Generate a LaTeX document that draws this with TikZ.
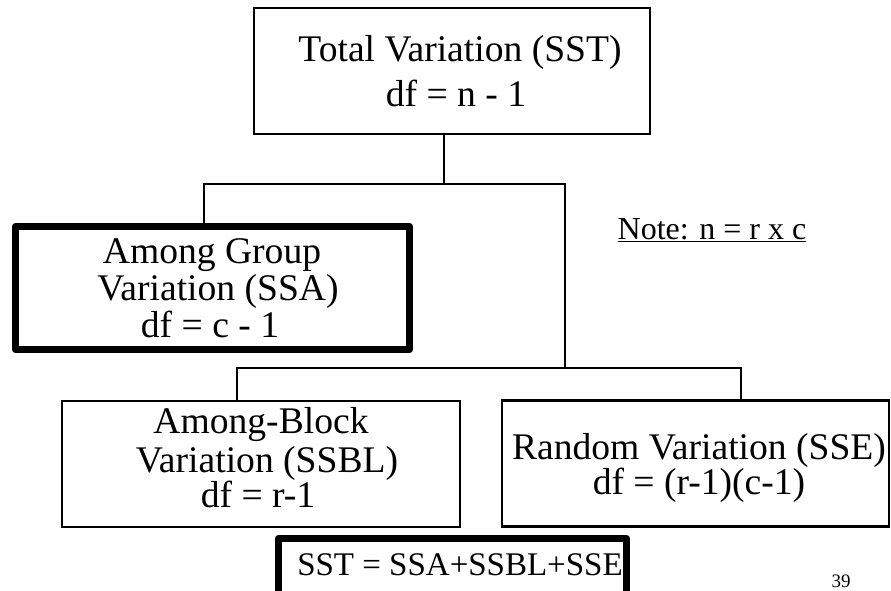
\documentclass[tikz,border=0pt]{standalone}
\usepackage{fontspec}
\setmainfont{Liberation Serif}
\begin{document}
\begin{tikzpicture}[x=1pt,y=-1pt,
  thinbox/.style={draw, line width=2.6pt, inner sep=0pt, rectangle},
  thickbox/.style={draw, line width=7pt, line join=round, inner sep=0pt, rectangle},
  conn/.style={line width=2.6pt},
  txt/.style={anchor=base, inner sep=0pt, text height=0.64em, text depth=0.1em,
    font=\fontsize{37.6}{38}\selectfont},
  sumtxt/.style={anchor=base, inner sep=0pt, font=\fontsize{33}{34}\selectfont},
  notetxt/.style={anchor=base, inner sep=0pt, font=\fontsize{32}{34}\selectfont},
  pagenum/.style={anchor=base, inner sep=0pt, font=\fontsize{19}{20}\selectfont}]
\useasboundingbox (0,0) rectangle (891,590);

% boxes
\node[thinbox, minimum width=396pt, minimum height=126pt] (sst) at (452,71) {};
\node[thickbox, minimum width=394pt, minimum height=123pt] (ssa) at (212.5,288) {};
\node[thinbox, minimum width=398pt, minimum height=126pt] (ssbl) at (261,464) {};
\node[thinbox, minimum width=387pt, minimum height=126pt] (sse) at (695.5,463.5) {};
\node[thickbox, minimum width=348pt, minimum height=61pt] (sum) at (452.5,569) {};

% box texts
\node[txt] (sstA) at (460,61) {Total Variation (SST)};
\node[txt] (sstB) at (456,106) {df = n - 1};

\node[txt] (ssaA) at (212,263) {Among Group};
\node[txt] (ssaB) at (218,300) {Variation (SSA)};
\node[txt] (ssaC) at (210,337) {df = c - 1};

\node[txt] (ssblA) at (261,433) {Among-Block};
\node[txt] (ssblB) at (267,472) {Variation (SSBL)};
\node[txt] (ssblC) at (258,507) {df = r-1};

\node[txt] (sseA) at (699,459) {Random Variation (SSE)};
\node[txt] (sseB) at (699,494) {df = (r-1)(c-1)};

\node[sumtxt] (sumT) at (460,575) {SST = SSA+SSBL+SSE};

% note and page number
\node[notetxt] (note) at (712,239) {\underline{Note: n = r x c}};
\node[pagenum] (pnum) at (841,587) {39};

% connectors
\coordinate (j1) at (444,184);
\coordinate (a1) at (204,184);
\coordinate (a2) at (565,184);
\coordinate (b1) at (237,368);
\coordinate (b2) at (741,368);
\coordinate (j2) at (565,368);

\draw[conn] (sst.south -| j1) -- (j1);
\draw[conn] (ssa.north -| a1) -- (a1) -- (a2) -- (j2);
\draw[conn] (ssbl.north -| b1) -- (b1) -- (b2) -- (sse.north -| b2);
\end{tikzpicture}
\end{document}
